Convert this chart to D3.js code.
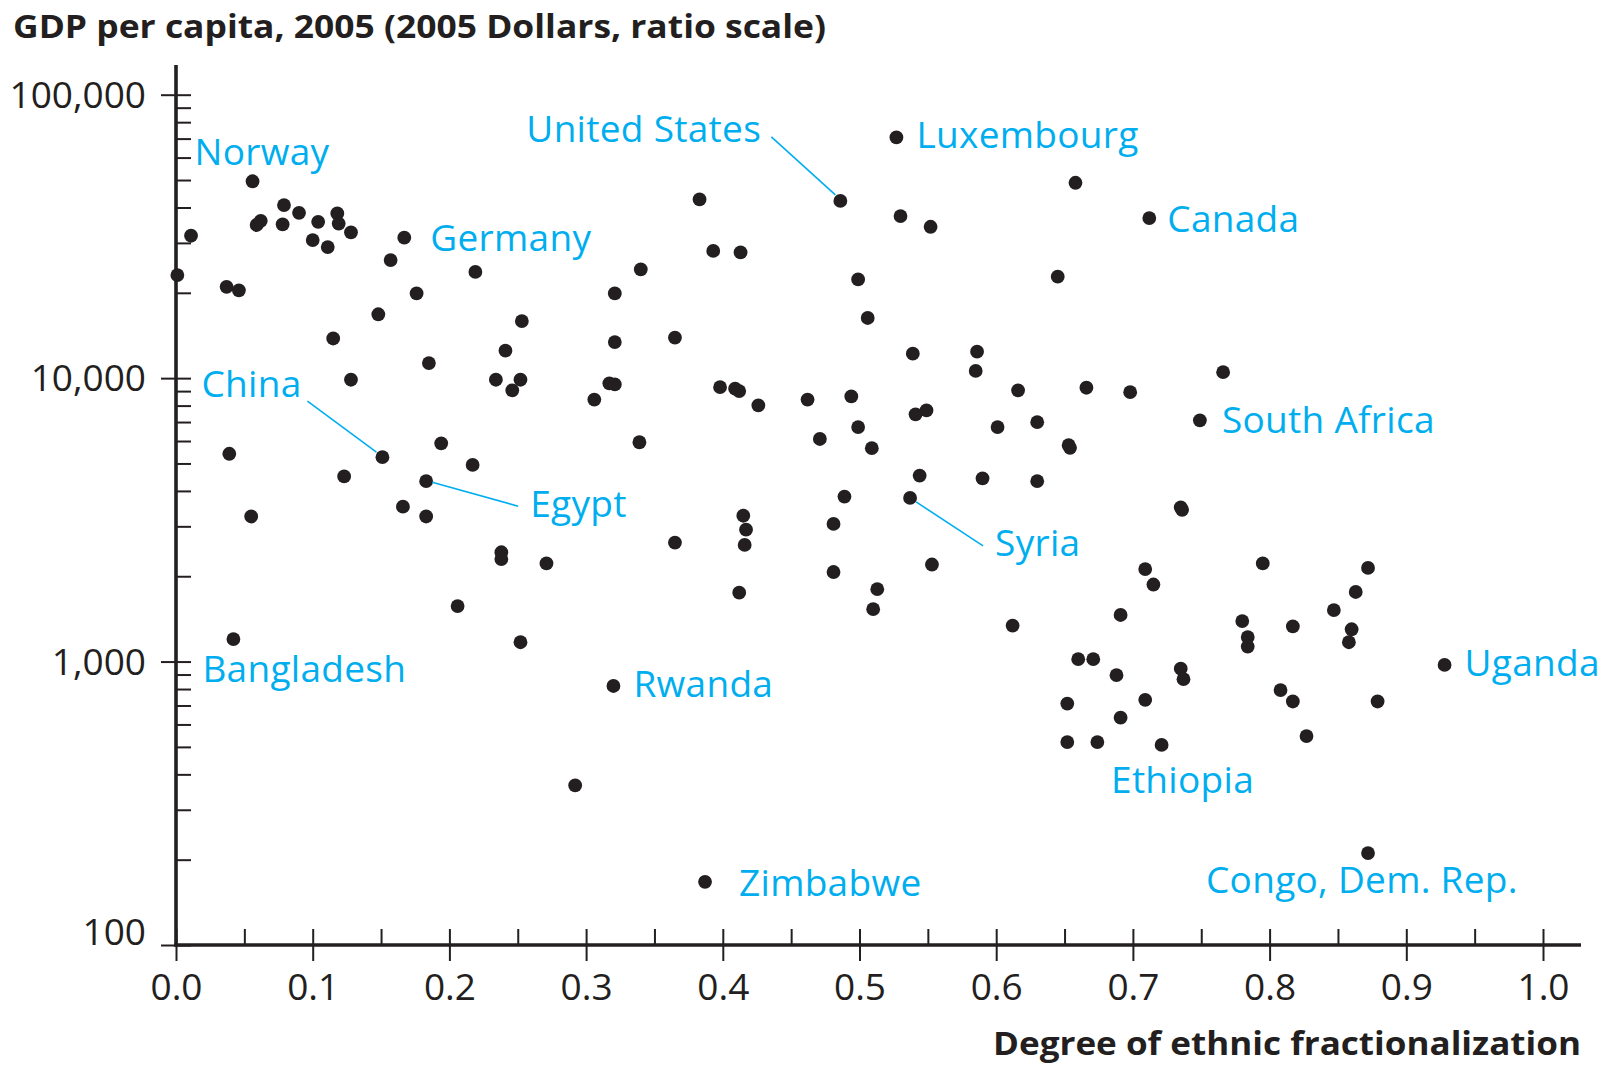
<!DOCTYPE html>
<html>
<head>
<meta charset="utf-8">
<script src="https://cdn.jsdelivr.net/npm/d3@7"></script>
<style>
  body { margin: 0; background: #fff; }
  text { font-family: "Open Sans", "Noto Sans", sans-serif; }
</style>
</head>
<body>
<div id="chart"></div>
<script>
// unlabelled countries: ethnic fractionalization and GDP per capita (2005 $)
const fract = [
  0.011, 0.001, 0.059, 0.062, 0.079, 0.078, 0.090, 0.104, 0.100, 0.111,
  0.118, 0.119, 0.128, 0.157, 0.219, 0.037, 0.046, 0.176, 0.148, 0.253,
  0.115, 0.241, 0.383, 0.530, 0.552, 0.393, 0.413, 0.340, 0.499, 0.321,
  0.506, 0.645, 0.321, 0.365, 0.539, 0.586, 0.658, 0.185, 0.128, 0.234,
  0.252, 0.246, 0.039, 0.194, 0.217, 0.123, 0.055, 0.166, 0.183, 0.238,
  0.238, 0.206, 0.252, 0.271, 0.585, 0.317, 0.321, 0.306, 0.398, 0.409,
  0.412, 0.426, 0.462, 0.494, 0.541, 0.549, 0.616, 0.601, 0.630, 0.339,
  0.471, 0.499, 0.509, 0.544, 0.590, 0.630, 0.489, 0.415, 0.417, 0.416,
  0.481, 0.365, 0.553, 0.481, 0.513, 0.510, 0.412, 0.612, 0.766, 0.666,
  0.698, 0.653, 0.654, 0.735, 0.736, 0.795, 0.872, 0.709, 0.715, 0.863,
  0.847, 0.691, 0.780, 0.817, 0.860, 0.858, 0.784, 0.784, 0.660, 0.671,
  0.688, 0.735, 0.737, 0.808, 0.652, 0.709, 0.817, 0.879, 0.691, 0.652,
  0.674, 0.721, 0.827, 0.292
];
const gdp = [
  31800, 23100, 34700, 35900, 40800, 34900, 38300, 35600, 30700, 29000,
  38100, 35100, 32700, 26100, 23700, 21000, 20400, 19900, 16800, 15900,
  13800, 12500, 42700, 37300, 34200, 28100, 27800, 24200, 22300, 19900,
  16300, 22800, 13400, 13900, 12200, 12400, 48900, 11300, 9870, 9870,
  9870, 9060, 5410, 5890, 4940, 4500, 3250, 3520, 3250, 2430,
  2300, 1570, 1170, 2220, 10600, 9590, 9500, 8400, 9290, 9180,
  9000, 8010, 8400, 8620, 7450, 7690, 9060, 6720, 6990, 5940,
  6100, 6720, 5660, 4530, 4430, 4330, 3820, 3270, 2920, 2580,
  3060, 2630, 2200, 2070, 1800, 1530, 1750, 1340, 10500, 9250,
  8920, 5800, 5680, 3500, 3430, 2220, 2140, 2120, 1870, 1760,
  1520, 1460, 1390, 1330, 1300, 1170, 1220, 1130, 1020, 1020,
  895, 944, 867, 793, 711, 733, 723, 723, 634, 520,
  520, 508, 546, 366
];

// labelled countries
const names = ["Norway", "Germany", "United States", "Luxembourg", "Canada", "China", "Egypt",
  "Syria", "South Africa", "Bangladesh", "Rwanda", "Uganda", "Zimbabwe", "Congo, Dem. Rep."];
const namedFract = [0.056, 0.167, 0.486, 0.527, 0.712, 0.151, 0.183, 0.537, 0.749, 0.042, 0.320, 0.928, 0.387, 0.872];
const namedGdp = [49500, 31300, 42200, 70700, 36700, 5260, 4330, 3780, 7100, 1200, 820, 973, 167, 211];

const xTicks = [0, 0.1, 0.2, 0.3, 0.4, 0.5, 0.6, 0.7, 0.8, 0.9, 1.0];
const yTicks = [100, 1000, 10000, 100000];
const yTickLabels = ["100", "1,000", "10,000", "100,000"];

// label placement: offset of text (left, baseline) from its dot, optional leader line
const labelLayout = {
  "Norway": { dx: -58, dy: -16 },
  "Germany": { dx: 26, dy: 13 },
  "United States": { dx: -314, dy: -59, lead: [-69, -64, -5, -6] },
  "Luxembourg": { dx: 20, dy: 11 },
  "Canada": { dx: 18, dy: 14 },
  "China": { dx: -181, dy: -60, lead: [-75, -56, -6, -5] },
  "Egypt": { dx: 104, dy: 36, lead: [6, 1, 92, 25] },
  "Syria": { dx: 85, dy: 58, lead: [6, 4, 73, 48] },
  "South Africa": { dx: 22, dy: 13 },
  "Bangladesh": { dx: -31, dy: 43 },
  "Rwanda": { dx: 20, dy: 11 },
  "Uganda": { dx: 20, dy: 11 },
  "Zimbabwe": { dx: 34, dy: 14 },
  "Congo, Dem. Rep.": { dx: -162, dy: 40 }
};

const width = 1605, height = 1066;
const ink = "#231f20", blue = "#00aeef";

const svg = d3.select("#chart").append("svg")
  .attr("width", width)
  .attr("height", height);

const x = d3.scaleLinear().domain([0, 1]).range([176, 1543]);
const y = d3.scaleLog().domain([100, 100000]).range([945, 94.7]);

// x axis: major ticks cross the line, minor ticks point up
const xAxis = svg.append("g")
  .attr("transform", "translate(0," + y(100) + ")")
  .call(d3.axisBottom(x).tickValues(xTicks).tickSize(16).tickSizeOuter(0).tickFormat(d3.format(".1f")));
xAxis.select(".domain").remove();
xAxis.selectAll(".tick line").attr("y1", -16).attr("stroke", ink).attr("stroke-width", 2);
xAxis.selectAll(".tick text")
  .attr("y", 55).attr("dy", null)
  .attr("fill", ink).style("font-size", "37px");

const xMinor = svg.append("g")
  .attr("transform", "translate(0," + y(100) + ")")
  .call(d3.axisTop(x).tickValues(d3.range(0.05, 1, 0.1)).tickSize(16).tickFormat(""));
xMinor.select(".domain").remove();
xMinor.selectAll(".tick line").attr("stroke", ink).attr("stroke-width", 2);

// y axis
const yAxis = svg.append("g")
  .attr("transform", "translate(" + x(0) + ",0)")
  .call(d3.axisLeft(y).tickValues(yTicks).tickSize(15).tickSizeOuter(0)
    .tickFormat((d, i) => yTickLabels[i]));
yAxis.select(".domain").remove();
yAxis.selectAll(".tick line").attr("x1", 15).attr("stroke", ink).attr("stroke-width", 2);
yAxis.selectAll(".tick text")
  .attr("x", -30)
  .attr("dy", d => d === 100 ? "-0.02em" : "0.34em")
  .attr("fill", ink).style("font-size", "37px");

const minorVals = [];
yTicks.slice(0, 3).forEach(p => { for (let k = 2; k <= 9; k++) minorVals.push(p * k); });
const yMinor = svg.append("g")
  .attr("transform", "translate(" + x(0) + ",0)")
  .call(d3.axisRight(y).tickValues(minorVals).tickSize(15).tickFormat(""));
yMinor.select(".domain").remove();
yMinor.selectAll(".tick line").attr("stroke", ink).attr("stroke-width", 2);

// axis lines, drawn past the last tick like the original
svg.append("line")
  .attr("x1", x(0)).attr("x2", x(0))
  .attr("y1", y(100) + 1.5).attr("y2", 65)
  .attr("stroke", ink).attr("stroke-width", 3.6);
svg.append("line")
  .attr("x1", x(0) - 1.8).attr("x2", 1581)
  .attr("y1", y(100)).attr("y2", y(100))
  .attr("stroke", ink).attr("stroke-width", 3.6);

// titles
svg.append("text")
  .attr("x", 13).attr("y", 38)
  .attr("fill", ink)
  .attr("textLength", 813).attr("lengthAdjust", "spacingAndGlyphs")
  .style("font-size", "33px").style("font-weight", "bold")
  .text("GDP per capita, 2005 (2005 Dollars, ratio scale)");

svg.append("text")
  .attr("x", 993).attr("y", 1055)
  .attr("fill", ink)
  .attr("textLength", 588).attr("lengthAdjust", "spacingAndGlyphs")
  .style("font-size", "33px").style("font-weight", "bold")
  .text("Degree of ethnic fractionalization");

// dots
const pts = fract.map((f, i) => ({ f: f, g: gdp[i] }));
const named = names.map((n, i) => ({ name: n, f: namedFract[i], g: namedGdp[i] }));

svg.append("g").selectAll("circle")
  .data(pts.concat(named))
  .enter().append("circle")
  .attr("cx", d => x(d.f))
  .attr("cy", d => y(d.g))
  .attr("r", 6.9)
  .attr("fill", ink);

// leader lines and labels
const lab = svg.append("g");
named.forEach(d => {
  const L = labelLayout[d.name];
  const px = x(d.f), py = y(d.g);
  if (L.lead) {
    lab.append("line")
      .attr("x1", px + L.lead[0]).attr("y1", py + L.lead[1])
      .attr("x2", px + L.lead[2]).attr("y2", py + L.lead[3])
      .attr("stroke", blue).attr("stroke-width", 1.6);
  }
  lab.append("text")
    .attr("x", px + L.dx).attr("y", py + L.dy)
    .attr("fill", blue)
    .style("font-size", "37px")
    .style("letter-spacing", "0.3px")
    .text(d.name);
});

// Ethiopia is named without a marked dot
lab.append("text")
  .attr("x", x(0.684)).attr("y", y(344))
  .attr("fill", blue)
  .style("font-size", "37px")
  .style("letter-spacing", "0.3px")
  .text("Ethiopia");
</script>
</body>
</html>
